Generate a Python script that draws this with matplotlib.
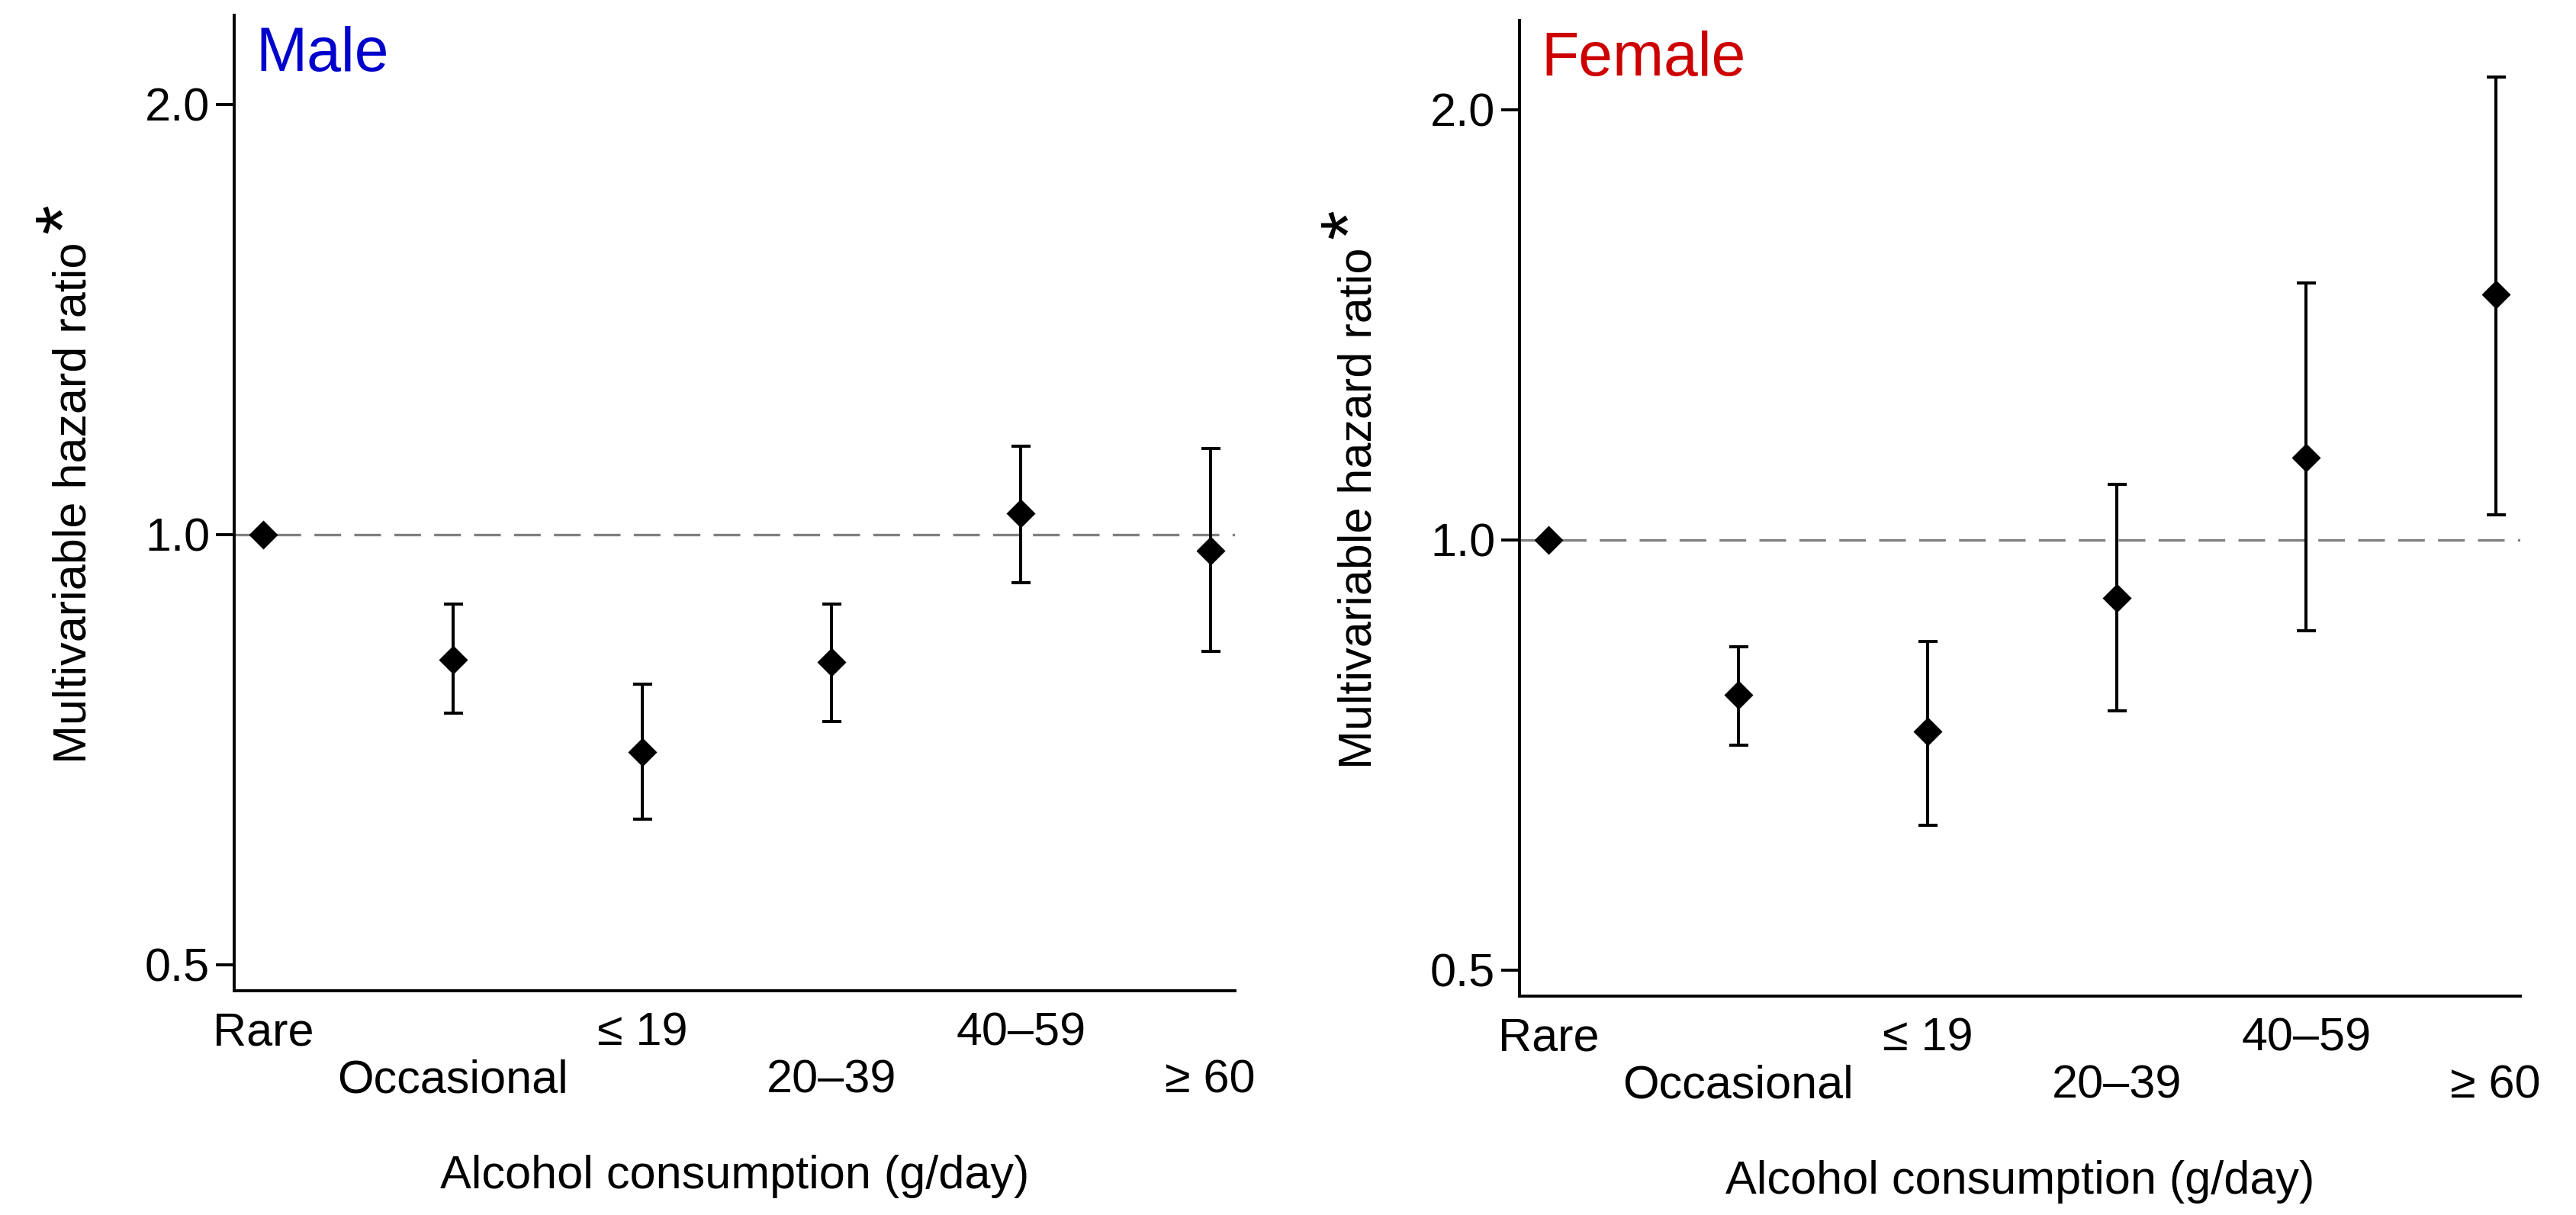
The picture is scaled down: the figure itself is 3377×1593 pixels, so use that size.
import matplotlib
matplotlib.use("Agg")
import matplotlib.pyplot as plt
import numpy as np
from matplotlib.ticker import NullLocator

plt.rcParams['font.family'] = ['Liberation Sans', 'DejaVu Sans']

# ---- data ----
categories = ['Rare', 'Occasional', '≤ 19', '20–39', '40–59', '≥ 60']
male_hr = [1.000, 0.817, 0.704, 0.814, 1.035, 0.974]
male_lo = [1.000, 0.750, 0.632, 0.740, 0.925, 0.828]
male_hi = [1.000, 0.894, 0.786, 0.894, 1.153, 1.148]
female_hr = [1.000, 0.779, 0.734, 0.910, 1.142, 1.486]
female_lo = [1.000, 0.718, 0.631, 0.759, 0.864, 1.041]
female_hi = [1.000, 0.842, 0.849, 1.094, 1.513, 2.107]
ytick_vals = [0.5, 1.0, 2.0]
ytick_labels = ['0.5', '1.0', '2.0']
panel_titles = ['Male', 'Female']
panel_colors = ['#0000CC', '#CC0000']
xlabel_text = 'Alcohol consumption (g/day)'
ylabel_text = 'Multivariable hazard ratio'

W, H = 3377, 1593
DPI = 100
fig = plt.figure(figsize=(W / DPI, H / DPI), dpi=DPI)

# axes boxes in pixels: left, top, right, bottom
boxes = [(307, 20, 1619, 1299), (1992, 27, 3304, 1306)]
title_baselines = [92.7, 99.0]
series = [(male_hr, male_lo, male_hi), (female_hr, female_lo, female_hi)]

for (l, t, r, b), (hr, lo, hi), title, tcol, tb in zip(boxes, series, panel_titles,
                                                     panel_colors, title_baselines):
    ax = fig.add_axes([l / W, 1 - b / H, (r - l) / W, (b - t) / H])
    x = np.arange(len(categories))
    hr_a = np.array(hr)
    lo_a = np.array(lo)
    hi_a = np.array(hi)

    ax.axhline(1.0, color='#808080', lw=2.4, dashes=(10.5, 5.2), zorder=1)
    ax.errorbar(x[1:], hr_a[1:], yerr=[hr_a[1:] - lo_a[1:], hi_a[1:] - hr_a[1:]],
                fmt='none', ecolor='black', elinewidth=2.9, capsize=9, capthick=2.9,
                zorder=2)
    ax.plot(x, hr_a, linestyle='none', marker=(4, 0, 0), markersize=27.4,
            color='black', markeredgewidth=0, zorder=3)

    ax.set_yscale('log')
    ax.set_ylim(0.4793, 2.309)
    ax.set_xlim(-0.155, 5.13)
    ax.set_yticks(ytick_vals)
    ax.set_yticklabels(ytick_labels)
    ax.yaxis.set_minor_locator(NullLocator())
    ax.set_xticks(x)
    ax.set_xticklabels(categories)

    for side in ['top', 'right']:
        ax.spines[side].set_visible(False)
    for side in ['left', 'bottom']:
        ax.spines[side].set_linewidth(2.8)

    ax.tick_params(axis='y', direction='out', length=17, width=2.8,
                   labelsize=44, pad=6)
    ax.tick_params(axis='x', length=0, labelsize=44)
    for i, tick in enumerate(ax.xaxis.get_major_ticks()):
        tick.set_pad(19.5 if i % 2 == 0 else 64.5)

    ax.set_xlabel(xlabel_text, fontsize=44)
    ax.xaxis.set_label_coords(0.5, -0.168)
    ax.set_ylabel(ylabel_text, fontsize=44)
    ax.yaxis.set_label_coords(-0.1387, 0.5)
    ax.text(-0.1463, 0.7913, '*', transform=ax.transAxes, fontsize=72,
            rotation=90, rotation_mode='anchor', ha='center', va='baseline')

    ax.text(28 / (r - l), 1 - (tb - t) / (b - t),
            title, transform=ax.transAxes, fontsize=58, color=tcol,
            ha='left', va='baseline')

fig.savefig('out.png', dpi=DPI)
